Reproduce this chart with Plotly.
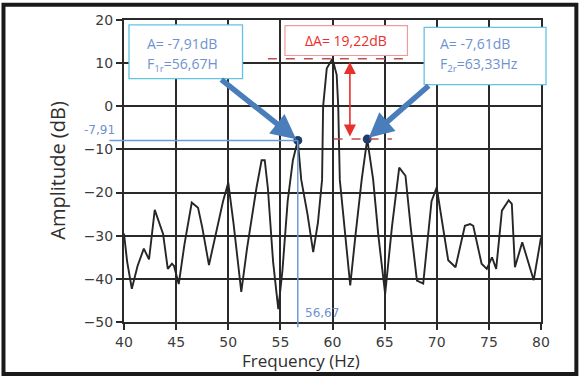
import plotly.graph_objects as go

# ---- data ----
freq = [40.0, 40.3, 40.75, 41.3, 41.9, 42.4, 42.95, 43.4, 43.75, 44.2, 44.6, 44.8,
        45.25, 45.8, 46.5, 47.1, 47.5, 48.15, 48.8, 49.5, 50.0, 50.5, 51.25, 51.8,
        52.7, 53.2, 53.5, 53.8, 54.3, 54.8, 55.2, 55.7, 56.2, 56.67, 57.0, 57.6,
        58.15, 58.6, 59.0, 59.1, 59.45, 60.0, 60.4, 60.55, 60.7, 61.2, 61.7, 62.2,
        62.8, 63.33, 63.9, 64.4, 65.05, 65.7, 66.4, 67.0, 67.5, 68.1, 68.7, 69.5,
        70.0, 70.3, 71.1, 71.8, 72.7, 73.2, 73.5, 74.3, 74.8, 75.3, 75.7, 76.25,
        76.9, 77.2, 77.5, 78.2, 78.8, 79.3, 80.0]
amp = [-29.5, -36.0, -42.3, -37.0, -33.0, -35.5, -24.0, -27.0, -29.6, -37.7, -36.5, -37.0,
       -41.2, -32.0, -22.3, -23.5, -28.0, -36.8, -30.0, -22.0, -17.7, -27.0, -43.0, -33.0,
       -19.0, -12.5, -12.5, -19.0, -36.0, -47.0, -38.0, -22.0, -12.5, -7.91, -17.0, -25.0,
       -33.8, -27.0, -17.0, 0.0, 8.8, 11.0, 7.3, 0.0, -17.0, -30.0, -41.5, -30.0,
       -17.0, -7.61, -17.0, -30.0, -43.5, -28.0, -14.2, -16.1, -28.0, -40.4, -41.1, -22.0,
       -18.8, -23.5, -35.7, -37.3, -27.7, -27.3, -27.7, -36.5, -37.7, -35.0, -37.7, -24.2,
       -21.8, -22.6, -37.3, -31.5, -36.5, -40.3, -30.4]

peak_f = [56.67, 63.33]
peak_a = [-7.91, -7.61]
delta_label = "ΔA= 19,22dB"
box1_lines = ["A= -7,91dB", "F<sub>1r</sub>=56,67H"]
box2_lines = ["A= -7,61dB", "F<sub>2r</sub>=63,33Hz"]

x_ticks = [40, 45, 50, 55, 60, 65, 70, 75, 80]
y_ticks = [-50, -40, -30, -20, -10, 0, 10, 20]
XR = [40, 80]
YR = [-50, 20]

main_a = max(amp)
main_f = freq[amp.index(main_a)]


def pxr(x):
    return (x - XR[0]) / (XR[1] - XR[0])


def pyr(y):
    return (y - YR[0]) / (YR[1] - YR[0])


BLUE = "#4a7ebb"
LBLUE = "#6b9bd6"
TXTBLUE = "#6f92cf"
RED = "#e8302c"

fig = go.Figure()
fig.add_trace(go.Scatter(x=freq, y=amp, mode="lines",
                         line=dict(color="#262626", width=1.9), showlegend=False,
                         hoverinfo="skip"))

shapes = []
annotations = []

# thin blue guide lines at the left peak
shapes.append(dict(type="line", xref="paper", yref="paper",
                   x0=pxr(38.6), x1=pxr(peak_f[0]), y0=pyr(peak_a[0]), y1=pyr(peak_a[0]),
                   line=dict(color=LBLUE, width=1.5), layer="above"))
shapes.append(dict(type="line", xref="paper", yref="paper",
                   x0=pxr(peak_f[0]), x1=pxr(peak_f[0]), y0=pyr(peak_a[0]), y1=pyr(-51.2),
                   line=dict(color=LBLUE, width=1.5), layer="above"))

# red dashed level lines
shapes.append(dict(type="line", xref="x", yref="y", x0=53.8, x1=67.4, y0=main_a, y1=main_a,
                   line=dict(color="#c0504d", width=1.5, dash="dash"), layer="above"))
shapes.append(dict(type="line", xref="x", yref="y", x0=60.1, x1=65.7, y0=peak_a[1], y1=peak_a[1],
                   line=dict(color="#c0504d", width=1.5, dash="dash"), layer="above"))

# boxes
shapes.append(dict(type="rect", xref="paper", yref="paper",
                   x0=pxr(40.48), x1=pxr(51.37), y0=pyr(6.39), y1=pyr(18.85),
                   line=dict(color="#62c3e3", width=1.3), fillcolor="white", layer="above"))
shapes.append(dict(type="rect", xref="paper", yref="paper",
                   x0=pxr(68.79), x1=pxr(80.48), y0=pyr(5.0), y1=pyr(18.3),
                   line=dict(color="#62c3e3", width=1.3), fillcolor="white", layer="above"))
shapes.append(dict(type="rect", xref="paper", yref="paper",
                   x0=pxr(55.44), x1=pxr(67.19), y0=pyr(11.77), y1=pyr(18.69),
                   line=dict(color="#f29a9a", width=1.2), fillcolor="white", layer="above"))

# outer frame
shapes.append(dict(type="rect", xref="paper", yref="paper",
                   x0=-0.289, x1=1.0848, y0=-0.1724, y1=1.0504,
                   line=dict(color="#1a1a1a", width=4), fillcolor="rgba(0,0,0,0)", layer="above"))

# peak markers
fig.add_trace(go.Scatter(x=peak_f, y=peak_a, mode="markers",
                         marker=dict(color="#1f3d6b", size=9), showlegend=False,
                         hoverinfo="skip", cliponaxis=False))

boxfont = dict(family="Open Sans", size=14, color=TXTBLUE)
annotations.append(dict(xref="x", yref="y", x=41.99, y=14.6, text=box1_lines[0],
                        showarrow=False, xanchor="left", yanchor="middle", font=boxfont))
annotations.append(dict(xref="x", yref="y", x=41.99, y=9.76, text=box1_lines[1],
                        showarrow=False, xanchor="left", yanchor="middle", font=boxfont))
annotations.append(dict(xref="x", yref="y", x=70.13, y=14.6, text=box2_lines[0],
                        showarrow=False, xanchor="left", yanchor="middle", font=boxfont))
annotations.append(dict(xref="x", yref="y", x=70.13, y=9.76, text=box2_lines[1],
                        showarrow=False, xanchor="left", yanchor="middle", font=boxfont))
annotations.append(dict(xref="x", yref="y", x=61.3, y=15.2, text=delta_label,
                        showarrow=False, xanchor="center", yanchor="middle",
                        font=dict(family="Open Sans", size=14, color=RED)))

# blue arrows from boxes to peaks
annotations.append(dict(xref="x", yref="y", axref="x", ayref="y",
                        x=peak_f[0], y=peak_a[0], ax=49.19, ay=6.46, text="",
                        showarrow=True, arrowhead=2, arrowwidth=5.5, arrowsize=0.9,
                        arrowcolor=BLUE, standoff=2))
annotations.append(dict(xref="x", yref="y", axref="x", ayref="y",
                        x=peak_f[1], y=peak_a[1], ax=69.37, ay=5.07, text="",
                        showarrow=True, arrowhead=2, arrowwidth=5.5, arrowsize=0.9,
                        arrowcolor=BLUE, standoff=2))

# red double arrow for delta A
annotations.append(dict(xref="x", yref="y", axref="x", ayref="y",
                        x=61.67, y=peak_a[1] + 0.6, ax=61.67, ay=main_a - 0.4, text="",
                        showarrow=True, arrowhead=2, startarrowhead=2, arrowside="end+start",
                        arrowwidth=1.6, arrowsize=1.5, startarrowsize=1.5,
                        arrowcolor=RED))

# guide labels
annotations.append(dict(xref="paper", yref="y", x=-0.0175, y=peak_a[0], text="-7,91",
                        showarrow=False, xanchor="right", yanchor="bottom", yshift=1,
                        font=dict(family="DejaVu Sans", size=12, color=TXTBLUE)))
annotations.append(dict(xref="x", yref="y", x=peak_f[0], y=-47.9, text="56,67",
                        showarrow=False, xanchor="left", yanchor="middle", xshift=5,
                        font=dict(family="DejaVu Sans", size=12, color=TXTBLUE)))

# axis titles
annotations.append(dict(xref="paper", yref="paper", x=0.424, y=-0.126, text="Frequency (Hz)",
                        showarrow=False, xanchor="center", yanchor="middle",
                        font=dict(family="Open Sans", size=17, color="#2e2e2e")))
annotations.append(dict(xref="paper", yref="paper", x=-0.1616, y=0.503, text="Amplitude (dB)",
                        showarrow=False, xanchor="center", yanchor="middle", textangle=-90,
                        font=dict(family="Open Sans", size=20, color="#2e2e2e")))

axis_common = dict(showgrid=True, gridcolor="#2a2a2a", gridwidth=2, zeroline=False,
                   showline=True, linecolor="#2a2a2a", linewidth=2, mirror=True,
                   ticks="outside", ticklen=6, tickwidth=2, tickcolor="#2a2a2a",
                   tickfont=dict(family="DejaVu Sans", size=14, color="#3c3c3c"))

fig.update_layout(
    width=583, height=380,
    margin=dict(l=124, r=42, t=18, b=58),
    paper_bgcolor="white", plot_bgcolor="white",
    xaxis=dict(range=XR, tickvals=x_ticks, **axis_common),
    yaxis=dict(range=YR, tickvals=y_ticks, **axis_common),
    shapes=shapes, annotations=annotations,
    showlegend=False,
)

fig.write_html("out.html", config={"displayModeBar": False},
               post_script="document.body.style.margin='0px';")
